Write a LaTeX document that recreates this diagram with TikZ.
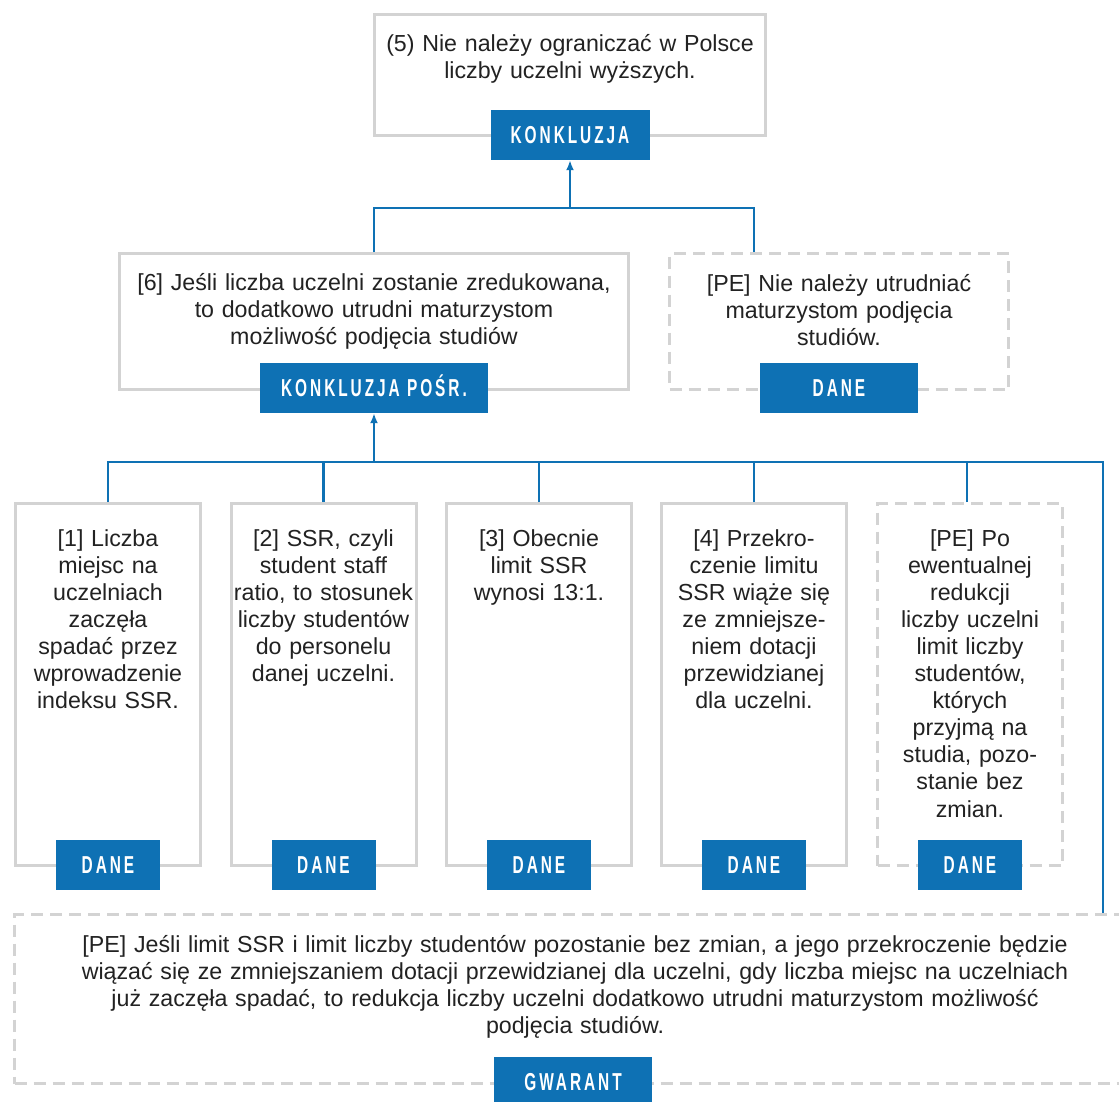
\documentclass[tikz,border=0pt]{standalone}
\usepackage{fontspec}
\setmainfont{Liberation Sans}
\newfontfamily\tagfont{Liberation Sans}[FakeStretch=0.63,LetterSpace=12]
\usetikzlibrary{arrows.meta}
\definecolor{tagblue}{HTML}{0E71B4}
\definecolor{boxgray}{HTML}{D3D3D3}
\definecolor{ink}{HTML}{222222}
\tikzset{
  box/.style={draw=boxgray, line width=3pt, rectangle, inner sep=0pt, fill=white},
  solidbox/.style={box},
  dashbox/.style={box, dash pattern=on 12pt off 7pt},
  txt/.style={anchor=base, align=center, inner sep=0pt, text=ink,
    font=\fontsize{23.2}{27.1}\selectfont},
  tag/.style={fill=tagblue, text=white, inner sep=0pt, minimum height=50pt,
    text height=17.5pt, text depth=0pt, font=\tagfont\bfseries\fontsize{24.5}{27}\selectfont},
  link/.style={draw=tagblue, line width=2.6pt},
  uparrow/.style={link, -{Latex[length=10pt,width=8pt]}},
}
\begin{document}
\begin{tikzpicture}[x=1pt,y=-1pt]
\useasboundingbox (0,0) rectangle (1119,1101);
\clip (0,0) rectangle (1119,1101);

% junction points of the connector buses
\coordinate (j1) at (570,208);
\coordinate (j2) at (374,462);
\coordinate (j3) at (1103,462);

% ---- conclusion ----
\node[solidbox, minimum width=391pt, minimum height=121pt] (concl) at (570,75) {};
\node[txt, text width=390pt] (conclTxt) at (570,51)
  {(5) Nie należy ograniczać w Polsce\\liczby uczelni wyższych.};
\node[tag, minimum width=159pt] (conclTag) at ([yshift=2pt]concl.south) {KONKLUZJA};

% ---- intermediate conclusion and its premise ----
\node[solidbox, minimum width=509pt, minimum height=136pt] (inter) at (374,321.5) {};
\node[txt, text width=505pt] (interTxt) at (374,290)
  {[6] Jeśli liczba uczelni zostanie zredukowana,\\to dodatkowo utrudni maturzystom\\możliwość podjęcia studiów};
\node[tag, minimum width=228pt] (interTag) at ([yshift=3pt]inter.south) {KONKLUZJA POŚR.};

\node[dashbox, minimum width=339pt, minimum height=136pt] (pe1) at (839,321.5) {};
\node[txt, text width=335pt] (pe1Txt) at (839,291)
  {[PE] Nie należy utrudniać\\maturzystom podjęcia\\studiów.};
\node[tag, minimum width=158pt] (pe1Tag) at ([yshift=3pt]pe1.south) {DANE};

% ---- premises ----
\node[solidbox, minimum width=185pt, minimum height=362pt] (d1) at (108,684.5) {};
\node[txt, text width=200pt] (d1Txt) at (108,546)
  {[1] Liczba\\miejsc na\\uczelniach\\zaczęła\\spadać przez\\wprowadzenie\\indeksu SSR.};
\node[tag, minimum width=104pt] (d1Tag) at ([yshift=2pt]d1.south) {DANE};

\node[solidbox, minimum width=185pt, minimum height=362pt] (d2) at (323.5,684.5) {};
\node[txt, text width=200pt] (d2Txt) at (323.5,546)
  {[2] SSR, czyli\\student staff\\ratio, to stosunek\\liczby studentów\\do personelu\\danej uczelni.};
\node[tag, minimum width=104pt] (d2Tag) at ([yshift=2pt]d2.south) {DANE};

\node[solidbox, minimum width=185pt, minimum height=362pt] (d3) at (539,684.5) {};
\node[txt, text width=200pt] (d3Txt) at (539,546)
  {[3] Obecnie\\limit SSR\\wynosi 13:1.};
\node[tag, minimum width=104pt] (d3Tag) at ([yshift=2pt]d3.south) {DANE};

\node[solidbox, minimum width=185pt, minimum height=362pt] (d4) at (754,684.5) {};
\node[txt, text width=200pt] (d4Txt) at (754,546)
  {[4] Przekro-\\czenie limitu\\SSR wiąże się\\ze zmniejsze-\\niem dotacji\\przewidzianej\\dla uczelni.};
\node[tag, minimum width=104pt] (d4Tag) at ([yshift=2pt]d4.south) {DANE};

\node[dashbox, minimum width=185pt, minimum height=362pt] (d5) at (970,684.5) {};
\node[txt, text width=200pt] (d5Txt) at (970,546)
  {[PE] Po\\ewentualnej\\redukcji\\liczby uczelni\\limit liczby\\studentów,\\których\\przyjmą na\\studia, pozo-\\stanie bez\\zmian.};
\node[tag, minimum width=104pt] (d5Tag) at ([yshift=2pt]d5.south) {DANE};

% ---- warrant ----
\node[dashbox, minimum width=1117pt, minimum height=169pt] (gw) at (573,999) {};
\node[txt, text width=1090pt] (gwTxt) at (575,952)
  {[PE] Jeśli limit SSR i limit liczby studentów pozostanie bez zmian, a jego przekroczenie będzie\\wiązać się ze zmniejszaniem dotacji przewidzianej dla uczelni, gdy liczba miejsc na uczelniach\\już zaczęła spadać, to redukcja liczby uczelni dodatkowo utrudni maturzystom możliwość\\podjęcia studiów.};
\node[tag, minimum width=158pt] (gwTag) at ([yshift=3pt]gw.south) {GWARANT};

% ---- connectors ----
\draw[link] (inter.north) |- (j1) -| ([xshift=-85pt]pe1.north);
\draw[uparrow] (j1) -- (conclTag.south);

\draw[link] (d1.north) |- (j3) -- (j3 |- gw.north);
\draw[link] (d2.north) -- (d2.north |- j2);
\draw[link] (d3.north) -- (d3.north |- j2);
\draw[link] (d4.north) -- (d4.north |- j2);
\draw[link] ([xshift=-3pt]d5.north) -- ([xshift=-3pt]d5.north |- j2);
\draw[uparrow] (j2) -- (interTag.south);
\end{tikzpicture}
\end{document}
